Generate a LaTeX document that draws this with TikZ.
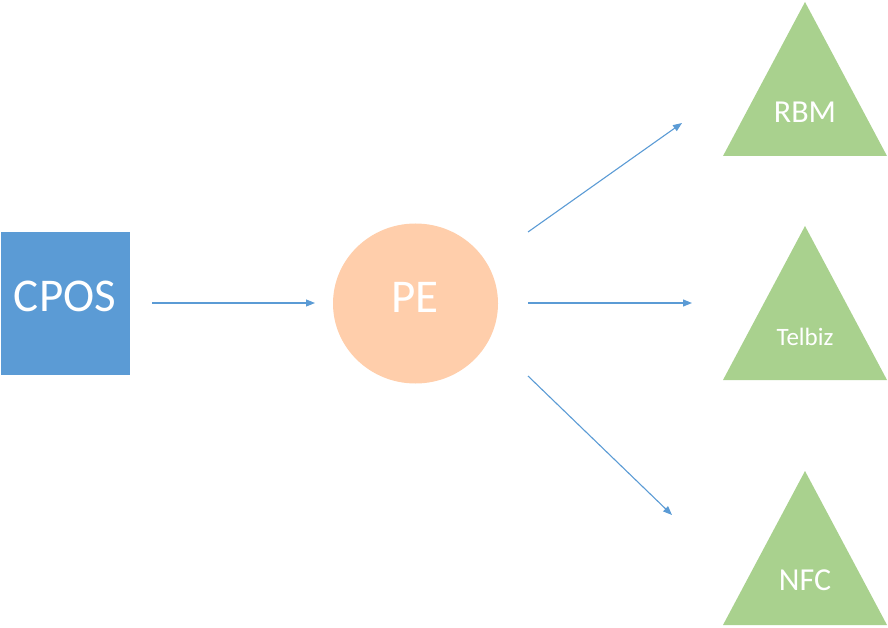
\documentclass[tikz,border=0pt]{standalone}
\usepackage{fontspec}
\setmainfont{Carlito}
\usetikzlibrary{arrows.meta}
\definecolor{cposblue}{HTML}{5B9BD5}
\definecolor{pepeach}{HTML}{FFCEAB}
\definecolor{sinkgreen}{HTML}{A9D18E}
\tikzset{
    source/.style={
        fill=cposblue, 
        draw=none, 
        text=white, 
        font=\fontsize{47}{50}\selectfont},
    engine/.style={
        fill=pepeach, 
        draw=none, 
        text=white, 
        font=\fontsize{47}{50}\selectfont},
    sink/.style={
        fill=sinkgreen, 
        draw=none},
    feed/.style={
        draw=cposblue, 
        line width=1.1pt, 
        -{Triangle[length=9pt,width=7pt]}}
}

\begin{document}
\begin{tikzpicture}[x=1pt, y=-1pt]
\useasboundingbox (0,0) rectangle (888,628);

\fill [source] (1,232) rectangle (130,375);
\node [source, inner sep=0pt] (cpos) at (65,296) {CPOS};

\fill [engine] (415.5,303.5) ellipse (82.5 and 80);
\node [engine, inner sep=0pt] (pe) at (415,297) {PE};

\foreach \y in {2, 226, 471}{
\path [sink] (805,\y) -- (887,\y+154) -- (723,\y+154) -- cycle;
}
\node [text=white, font=\fontsize{32}{34}\selectfont, inner sep=0pt] (rbm) at (805,112) {RBM};
\node [text=white, font=\fontsize{25}{27}\selectfont, inner sep=0pt] (telbiz) at (805,337) {Telbiz};
\node [text=white, font=\fontsize{32}{34}\selectfont, inner sep=0pt] (nfc) at (805,580) {NFC};

\coordinate (cpos-out) at (152,303);
\coordinate (pe-in) at (315,303);
\coordinate (pe-up) at (528,232);
\coordinate (pe-mid) at (528,303);
\coordinate (pe-down) at (528,376);
\coordinate (rbm-in) at (682,123);
\coordinate (telbiz-in) at (692,303);
\coordinate (nfc-in) at (672,515);

\draw [feed] (cpos-out) -- (pe-in);
\draw [feed] (pe-up) -- (rbm-in);
\draw [feed] (pe-mid) -- (telbiz-in);
\draw [feed] (pe-down) -- (nfc-in);

\end{tikzpicture}
\end{document}
